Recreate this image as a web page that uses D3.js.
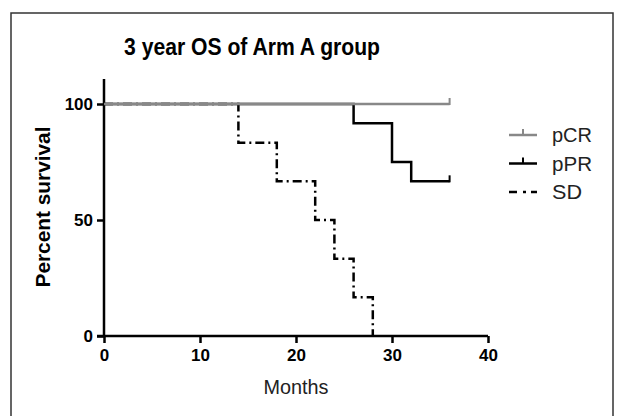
<!DOCTYPE html>
<html><head><meta charset="utf-8">
<script src="https://cdn.jsdelivr.net/npm/d3@7"></script>
<style>body{margin:0;background:#fff;} svg{display:block;font-family:Arial,"Liberation Sans",sans-serif;}</style>
</head><body>
<script>
const seriesNames = ["pCR", "pPR", "SD"];
const seriesColors = ["#888888", "#000000", "#000000"];
// step points: [month, percent survival]
const pCR = [[0,100],[36,100]];
const pPR = [[0,100],[26,100],[26,91.67],[30,91.67],[30,75],[32,75],[32,66.67],[36,66.67]];
const SD  = [[0,100],[14,100],[14,83.33],[18,83.33],[18,66.67],[22,66.67],[22,50],[24,50],[24,33.33],[26,33.33],[26,16.67],[28,16.67],[28,0]];
const censorPCR = [[36,100]];
const censorPPR = [[36,66.67]];
const xTicks = [0,10,20,30,40];
const yTicks = [0,50,100];

const W = 617, H = 416;
const svg = d3.select("body").append("svg").attr("width", W).attr("height", H);

svg.append("rect").attr("x",11).attr("y",13).attr("width",602).attr("height",420)
  .attr("fill","none").attr("stroke","#333").attr("stroke-width",1.5);

const x = d3.scaleLinear().domain([0,40]).range([104,488]);
const y = d3.scaleLinear().domain([0,100]).range([336,104]);

svg.append("text").attr("x",252).attr("y",55).attr("text-anchor","middle")
  .style("font-size","23px").style("font-weight","bold").attr("textLength",256).attr("lengthAdjust","spacingAndGlyphs")
  .text("3 year OS of Arm A group");

const xAxis = svg.append("g").attr("transform","translate(0,336)")
  .call(d3.axisBottom(x).tickValues(xTicks).tickSize(7).tickPadding(6).tickFormat(d3.format("d")));
const yAxis = svg.append("g").attr("transform","translate(104,0)")
  .call(d3.axisLeft(y).tickValues(yTicks).tickSize(7).tickPadding(4).tickFormat(d3.format("d")));
[xAxis,yAxis].forEach(a=>{
  a.attr("font-size",null).attr("font-family",null);
  a.select(".domain").attr("stroke","#000").attr("stroke-width",2.5);
  a.selectAll(".tick line").attr("stroke","#000").attr("stroke-width",2.5);
  a.selectAll(".tick text").style("font-size","17px").style("font-weight","bold").attr("fill","#000")
   .style("font-family","Arial, 'Liberation Sans', sans-serif");
});
yAxis.select(".domain").attr("d", `M-7,${y(0)}H0V79`);
xAxis.select(".domain").attr("d", `M${x(0)},0H${x(40)}`);

svg.append("text").attr("x",296).attr("y",394).attr("text-anchor","middle")
  .style("font-size","20px").attr("fill","#222").attr("textLength",65).attr("lengthAdjust","spacingAndGlyphs").text("Months");
svg.append("text").attr("transform","translate(50,207) rotate(-90)").attr("text-anchor","middle")
  .style("font-size","20px").style("font-weight","bold").attr("textLength",161).attr("lengthAdjust","spacingAndGlyphs").text("Percent survival");

const line = d3.line().x(d=>x(d[0])).y(d=>y(d[1]));
const dashes = [null, null, "9,4,2,4"];
[2,1,0].forEach(i=>{
  const s = [pCR,pPR,SD][i];
  svg.append("path").datum(s).attr("d",line).attr("fill","none")
    .attr("stroke",seriesColors[i]).attr("stroke-width",2.5)
    .attr("stroke-dasharray",dashes[i]);
});
[[censorPCR,0],[censorPPR,1]].forEach(([c,i])=>{
  svg.selectAll(null).data(c).enter().append("line")
    .attr("x1",d=>x(d[0])).attr("x2",d=>x(d[0]))
    .attr("y1",d=>y(d[1])-6).attr("y2",d=>y(d[1])+1)
    .attr("stroke",seriesColors[i]).attr("stroke-width",2);
});

const lg = svg.append("g");
seriesNames.forEach((n,i)=>{
  const yy = 135 + i*28.5;
  lg.append("line").attr("x1",509).attr("x2",537).attr("y1",yy).attr("y2",yy)
    .attr("stroke",seriesColors[i]).attr("stroke-width",2.5).attr("stroke-dasharray",i===2?"8,6,3,5":null);
  if(i<2) lg.append("line").attr("x1",523).attr("x2",523).attr("y1",yy-6).attr("y2",yy)
    .attr("stroke",seriesColors[i]).attr("stroke-width",2);
  lg.append("text").attr("x",552).attr("y",yy+7).style("font-size","20px").attr("fill","#222")
    .attr("textLength",[40,40,30][i]).attr("lengthAdjust","spacingAndGlyphs").text(n);
});
</script>
</body></html>
